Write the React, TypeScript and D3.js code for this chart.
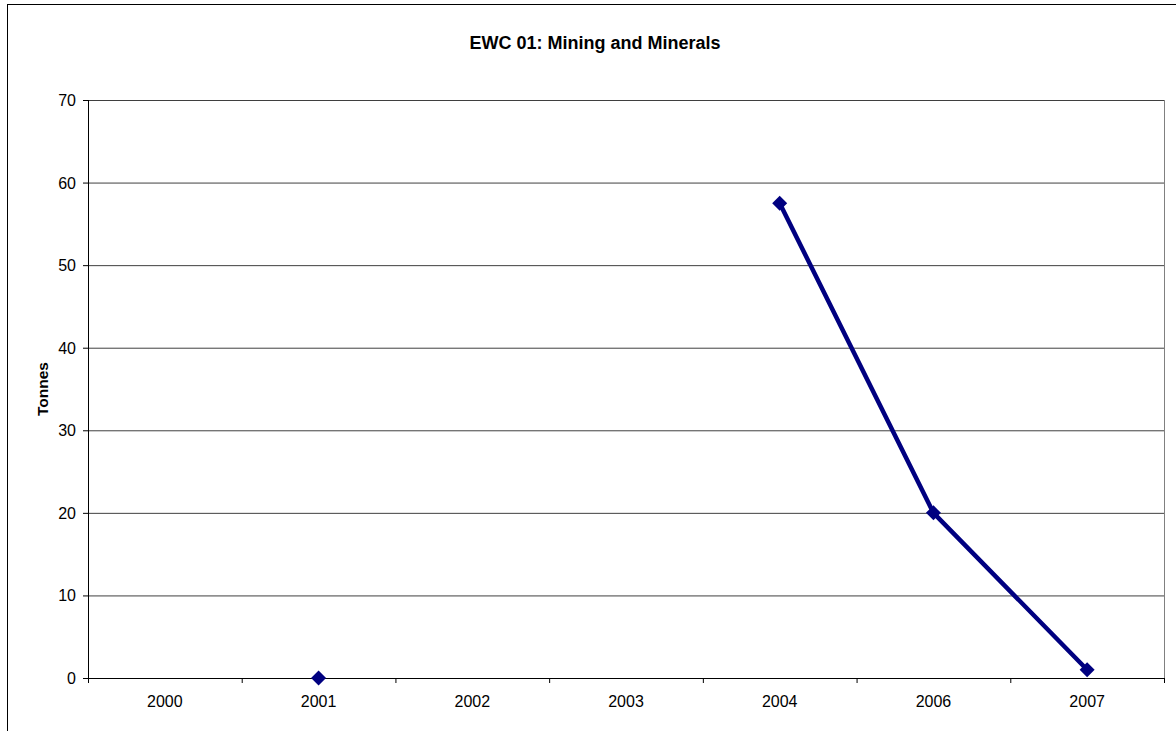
import React from "react";
import * as d3 from "d3";

const categories = ["2000", "2001", "2002", "2003", "2004", "2006", "2007"];
const values: (number | null)[] = [null, 0, null, null, 57.5, 20, 1];
const yTicks = [0, 10, 20, 30, 40, 50, 60, 70];
const title = "EWC 01: Mining and Minerals";
const yLabel = "Tonnes";

export default function App() {
  const W = 1176, H = 731;
  const left = 88, right = 1164, top = 100, bottom = 678;
  const x = d3.scaleBand().domain(categories).range([left, right]).padding(0);
  const y = d3.scaleLinear().domain([0, 70]).range([bottom, top]);
  const cx = (c: string) => (x(c) as number) + x.bandwidth() / 2;
  const pts = categories.map((c, i) => ({ c, v: values[i] }));
  const line = d3
    .line<{ c: string; v: number | null }>()
    .defined((d) => d.v !== null)
    .x((d) => cx(d.c))
    .y((d) => y(d.v as number));
  const font = "Liberation Sans, Arial, sans-serif";
  const diamond = (px: number, py: number) => {
    const r = 7.5;
    return `M${px},${py - r}L${px + r},${py}L${px},${py + r}L${px - r},${py}Z`;
  };
  return (
    <svg width={W} height={H} style={{ position: "absolute", left: 0, top: 0 }} fontFamily={font}>
      <rect x={0} y={0} width={W} height={H} fill="#fff" />
      <rect x={7.5} y={4.5} width={W} height={H} fill="none" stroke="#000" strokeWidth={1} />
      <text x={595} y={49} textAnchor="middle" fontSize={18} fontWeight="bold">
        {title}
      </text>
      {yTicks.map((t) => (
        <g key={t}>
          {t > 0 && (
            <line x1={left} x2={right} y1={y(t) + 0.5} y2={y(t) + 0.5} stroke="#000" strokeWidth={1} opacity={0.75} />
          )}
          <line x1={left - 5} x2={left} y1={y(t) + 0.5} y2={y(t) + 0.5} stroke="#000" />
          <text x={left - 12} y={y(t) + 6} textAnchor="end" fontSize={16}>
            {t}
          </text>
        </g>
      ))}
      <line x1={right + 0.5} x2={right + 0.5} y1={top} y2={bottom} stroke="#808080" />
      <line x1={left + 0.5} x2={left + 0.5} y1={top} y2={bottom + 5} stroke="#000" />
      <line x1={left} x2={right + 1} y1={bottom + 0.5} y2={bottom + 0.5} stroke="#000" />
      {categories.map((c) => (
        <g key={c}>
          <line
            x1={(x(c) as number) + x.bandwidth() + 0.5}
            x2={(x(c) as number) + x.bandwidth() + 0.5}
            y1={bottom}
            y2={bottom + 5}
            stroke="#000"
          />
          <text x={cx(c)} y={bottom + 29} textAnchor="middle" fontSize={16}>
            {c}
          </text>
        </g>
      ))}
      <text
        transform={`translate(48, ${(top + bottom) / 2}) rotate(-90)`}
        textAnchor="middle"
        fontSize={15.5}
        fontWeight="bold"
      >
        {yLabel}
      </text>
      <path d={line(pts) || ""} fill="none" stroke="#000080" strokeWidth={4.5} />
      {pts
        .filter((d) => d.v !== null)
        .map((d) => (
          <path key={d.c} d={diamond(cx(d.c), y(d.v as number))} fill="#000080" />
        ))}
    </svg>
  );
}
